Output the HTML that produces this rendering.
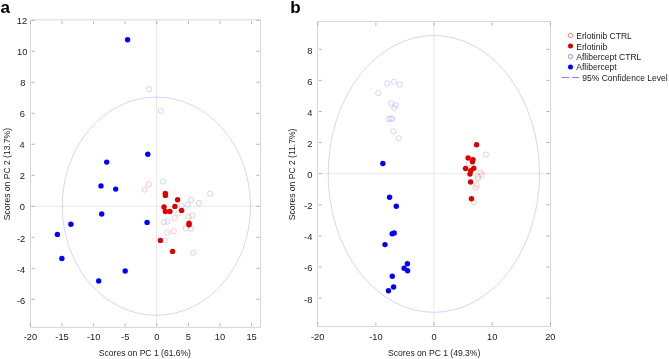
<!DOCTYPE html>
<html><head><meta charset="utf-8"><style>
html,body{margin:0;padding:0;background:#fff;width:669px;height:359px;overflow:hidden}
svg{display:block;will-change:transform}
text{font-family:'Liberation Sans', sans-serif;font-size:8.55px;fill:#1a1a1a}
.tk{font-size:9.3px}
</style></head><body>
<svg width="669" height="359" viewBox="0 0 669 359">
<rect width="669" height="359" fill="#fff"/>
<line x1="156.6" y1="19.9" x2="156.6" y2="327.4" stroke="#e8e8e8" stroke-width="1"/>
<line x1="30.5" y1="206.3" x2="260.5" y2="206.3" stroke="#e8e8e8" stroke-width="1"/>
<ellipse cx="156.4" cy="206.2" rx="94.1" ry="109.1" fill="none" stroke="#c2c2ff" stroke-width="0.7"/>
<rect x="30.5" y="19.9" width="230.0" height="307.5" fill="none" stroke="#d6d6d6" stroke-width="1"/>
<line x1="30.40" y1="326.2" x2="30.40" y2="323.2" stroke="#a0a0a0" stroke-width="0.8"/>
<line x1="30.40" y1="21.099999999999998" x2="30.40" y2="24.099999999999998" stroke="#a0a0a0" stroke-width="0.8"/>
<text class="tk" x="30.40" y="340.00" text-anchor="middle">-20</text>
<line x1="62.00" y1="326.2" x2="62.00" y2="323.2" stroke="#a0a0a0" stroke-width="0.8"/>
<line x1="62.00" y1="21.099999999999998" x2="62.00" y2="24.099999999999998" stroke="#a0a0a0" stroke-width="0.8"/>
<text class="tk" x="62.00" y="340.00" text-anchor="middle">-15</text>
<line x1="93.60" y1="326.2" x2="93.60" y2="323.2" stroke="#a0a0a0" stroke-width="0.8"/>
<line x1="93.60" y1="21.099999999999998" x2="93.60" y2="24.099999999999998" stroke="#a0a0a0" stroke-width="0.8"/>
<text class="tk" x="93.60" y="340.00" text-anchor="middle">-10</text>
<line x1="125.20" y1="326.2" x2="125.20" y2="323.2" stroke="#a0a0a0" stroke-width="0.8"/>
<line x1="125.20" y1="21.099999999999998" x2="125.20" y2="24.099999999999998" stroke="#a0a0a0" stroke-width="0.8"/>
<text class="tk" x="125.20" y="340.00" text-anchor="middle">-5</text>
<line x1="156.80" y1="326.2" x2="156.80" y2="323.2" stroke="#a0a0a0" stroke-width="0.8"/>
<line x1="156.80" y1="21.099999999999998" x2="156.80" y2="24.099999999999998" stroke="#a0a0a0" stroke-width="0.8"/>
<text class="tk" x="156.80" y="340.00" text-anchor="middle">0</text>
<line x1="188.40" y1="326.2" x2="188.40" y2="323.2" stroke="#a0a0a0" stroke-width="0.8"/>
<line x1="188.40" y1="21.099999999999998" x2="188.40" y2="24.099999999999998" stroke="#a0a0a0" stroke-width="0.8"/>
<text class="tk" x="188.40" y="340.00" text-anchor="middle">5</text>
<line x1="220.00" y1="326.2" x2="220.00" y2="323.2" stroke="#a0a0a0" stroke-width="0.8"/>
<line x1="220.00" y1="21.099999999999998" x2="220.00" y2="24.099999999999998" stroke="#a0a0a0" stroke-width="0.8"/>
<text class="tk" x="220.00" y="340.00" text-anchor="middle">10</text>
<line x1="251.60" y1="326.2" x2="251.60" y2="323.2" stroke="#a0a0a0" stroke-width="0.8"/>
<line x1="251.60" y1="21.099999999999998" x2="251.60" y2="24.099999999999998" stroke="#a0a0a0" stroke-width="0.8"/>
<text class="tk" x="251.60" y="340.00" text-anchor="middle">15</text>
<line x1="31.7" y1="20.30" x2="34.7" y2="20.30" stroke="#a0a0a0" stroke-width="0.8"/>
<line x1="259.3" y1="20.30" x2="256.3" y2="20.30" stroke="#a0a0a0" stroke-width="0.8"/>
<text class="tk" x="27.20" y="23.83" text-anchor="end">12</text>
<line x1="31.7" y1="51.30" x2="34.7" y2="51.30" stroke="#a0a0a0" stroke-width="0.8"/>
<line x1="259.3" y1="51.30" x2="256.3" y2="51.30" stroke="#a0a0a0" stroke-width="0.8"/>
<text class="tk" x="27.40" y="54.83" text-anchor="end">10</text>
<line x1="31.7" y1="82.30" x2="34.7" y2="82.30" stroke="#a0a0a0" stroke-width="0.8"/>
<line x1="259.3" y1="82.30" x2="256.3" y2="82.30" stroke="#a0a0a0" stroke-width="0.8"/>
<text class="tk" x="25.40" y="85.83" text-anchor="end">8</text>
<line x1="31.7" y1="113.30" x2="34.7" y2="113.30" stroke="#a0a0a0" stroke-width="0.8"/>
<line x1="259.3" y1="113.30" x2="256.3" y2="113.30" stroke="#a0a0a0" stroke-width="0.8"/>
<text class="tk" x="25.00" y="116.83" text-anchor="end">6</text>
<line x1="31.7" y1="144.30" x2="34.7" y2="144.30" stroke="#a0a0a0" stroke-width="0.8"/>
<line x1="259.3" y1="144.30" x2="256.3" y2="144.30" stroke="#a0a0a0" stroke-width="0.8"/>
<text class="tk" x="24.60" y="147.83" text-anchor="end">4</text>
<line x1="31.7" y1="175.30" x2="34.7" y2="175.30" stroke="#a0a0a0" stroke-width="0.8"/>
<line x1="259.3" y1="175.30" x2="256.3" y2="175.30" stroke="#a0a0a0" stroke-width="0.8"/>
<text class="tk" x="24.80" y="178.83" text-anchor="end">2</text>
<line x1="31.7" y1="206.30" x2="34.7" y2="206.30" stroke="#a0a0a0" stroke-width="0.8"/>
<line x1="259.3" y1="206.30" x2="256.3" y2="206.30" stroke="#a0a0a0" stroke-width="0.8"/>
<text class="tk" x="24.90" y="209.83" text-anchor="end">0</text>
<line x1="31.7" y1="237.30" x2="34.7" y2="237.30" stroke="#a0a0a0" stroke-width="0.8"/>
<line x1="259.3" y1="237.30" x2="256.3" y2="237.30" stroke="#a0a0a0" stroke-width="0.8"/>
<text class="tk" x="25.30" y="241.63" text-anchor="end">-2</text>
<line x1="31.7" y1="268.30" x2="34.7" y2="268.30" stroke="#a0a0a0" stroke-width="0.8"/>
<line x1="259.3" y1="268.30" x2="256.3" y2="268.30" stroke="#a0a0a0" stroke-width="0.8"/>
<text class="tk" x="25.30" y="272.63" text-anchor="end">-4</text>
<line x1="31.7" y1="299.30" x2="34.7" y2="299.30" stroke="#a0a0a0" stroke-width="0.8"/>
<line x1="259.3" y1="299.30" x2="256.3" y2="299.30" stroke="#a0a0a0" stroke-width="0.8"/>
<text class="tk" x="25.30" y="303.63" text-anchor="end">-6</text>
<circle cx="148.9" cy="184.2" r="2.65" fill="none" stroke="#f08a8a" stroke-width="0.45"/>
<circle cx="144.5" cy="189.5" r="2.65" fill="none" stroke="#f08a8a" stroke-width="0.45"/>
<circle cx="198.9" cy="203" r="2.65" fill="none" stroke="#f08a8a" stroke-width="0.45"/>
<circle cx="178.3" cy="213.4" r="2.65" fill="none" stroke="#f08a8a" stroke-width="0.45"/>
<circle cx="174.6" cy="218.1" r="2.65" fill="none" stroke="#f08a8a" stroke-width="0.45"/>
<circle cx="188.4" cy="216.7" r="2.65" fill="none" stroke="#f08a8a" stroke-width="0.45"/>
<circle cx="192.3" cy="215.4" r="2.65" fill="none" stroke="#f08a8a" stroke-width="0.45"/>
<circle cx="185.7" cy="228.4" r="2.65" fill="none" stroke="#f08a8a" stroke-width="0.45"/>
<circle cx="191" cy="228.7" r="2.65" fill="none" stroke="#f08a8a" stroke-width="0.45"/>
<circle cx="167.3" cy="232.6" r="2.65" fill="none" stroke="#f08a8a" stroke-width="0.45"/>
<circle cx="173.8" cy="231.2" r="2.65" fill="none" stroke="#f08a8a" stroke-width="0.45"/>
<circle cx="193.2" cy="252.7" r="2.65" fill="none" stroke="#f08a8a" stroke-width="0.45"/>
<circle cx="149" cy="89.2" r="2.65" fill="none" stroke="#a0a0ff" stroke-width="0.45"/>
<circle cx="160.8" cy="110.8" r="2.65" fill="none" stroke="#a0a0ff" stroke-width="0.45"/>
<circle cx="163.1" cy="181.5" r="2.65" fill="none" stroke="#a0a0ff" stroke-width="0.45"/>
<circle cx="210.1" cy="193.6" r="2.65" fill="none" stroke="#a0a0ff" stroke-width="0.45"/>
<circle cx="191.1" cy="200" r="2.65" fill="none" stroke="#a0a0ff" stroke-width="0.45"/>
<circle cx="187.5" cy="204.6" r="2.65" fill="none" stroke="#a0a0ff" stroke-width="0.45"/>
<circle cx="181.5" cy="205.8" r="2.65" fill="none" stroke="#a0a0ff" stroke-width="0.45"/>
<circle cx="164" cy="222" r="2.65" fill="none" stroke="#a0a0ff" stroke-width="0.45"/>
<circle cx="167.3" cy="221.6" r="2.65" fill="none" stroke="#a0a0ff" stroke-width="0.45"/>
<circle cx="165.1" cy="240.4" r="2.65" fill="none" stroke="#a0a0ff" stroke-width="0.45"/>
<circle cx="127.6" cy="39.7" r="2.7" fill="#0000ff"/>
<circle cx="106.7" cy="162.1" r="2.7" fill="#0000ff"/>
<circle cx="147.8" cy="154.3" r="2.7" fill="#0000ff"/>
<circle cx="101" cy="185.9" r="2.7" fill="#0000ff"/>
<circle cx="115.7" cy="189.1" r="2.7" fill="#0000ff"/>
<circle cx="101.7" cy="214" r="2.7" fill="#0000ff"/>
<circle cx="70.9" cy="224.2" r="2.7" fill="#0000ff"/>
<circle cx="57.4" cy="234.4" r="2.7" fill="#0000ff"/>
<circle cx="147.1" cy="222.4" r="2.7" fill="#0000ff"/>
<circle cx="61.9" cy="258.5" r="2.7" fill="#0000ff"/>
<circle cx="98.7" cy="281" r="2.7" fill="#0000ff"/>
<circle cx="125.2" cy="271" r="2.7" fill="#0000ff"/>
<circle cx="165.4" cy="193.4" r="2.7" fill="#dc0000"/>
<circle cx="165.4" cy="195.4" r="2.7" fill="#dc0000"/>
<circle cx="177.6" cy="199.8" r="2.7" fill="#dc0000"/>
<circle cx="164" cy="207" r="2.7" fill="#dc0000"/>
<circle cx="174.9" cy="206.4" r="2.7" fill="#dc0000"/>
<circle cx="165.4" cy="211.5" r="2.7" fill="#dc0000"/>
<circle cx="169.9" cy="211.5" r="2.7" fill="#dc0000"/>
<circle cx="181.6" cy="210.4" r="2.7" fill="#dc0000"/>
<circle cx="189.1" cy="223.2" r="2.7" fill="#dc0000"/>
<circle cx="189.1" cy="224.8" r="2.7" fill="#dc0000"/>
<circle cx="160.4" cy="240.4" r="2.7" fill="#dc0000"/>
<circle cx="172.6" cy="251.4" r="2.7" fill="#dc0000"/>
<line x1="433.85" y1="21.5" x2="433.85" y2="326.5" stroke="#e8e8e8" stroke-width="1"/>
<line x1="317.5" y1="173.7" x2="550.5" y2="173.7" stroke="#e8e8e8" stroke-width="1"/>
<ellipse cx="433.85" cy="173.9" rx="105.65" ry="138.4" fill="none" stroke="#c2c2ff" stroke-width="0.7"/>
<rect x="317.5" y="21.5" width="233.0" height="305.0" fill="none" stroke="#d6d6d6" stroke-width="1"/>
<line x1="317.71" y1="325.3" x2="317.71" y2="322.3" stroke="#a0a0a0" stroke-width="0.8"/>
<line x1="317.71" y1="22.7" x2="317.71" y2="25.7" stroke="#a0a0a0" stroke-width="0.8"/>
<text class="tk" x="317.71" y="340.00" text-anchor="middle">-20</text>
<line x1="375.88" y1="325.3" x2="375.88" y2="322.3" stroke="#a0a0a0" stroke-width="0.8"/>
<line x1="375.88" y1="22.7" x2="375.88" y2="25.7" stroke="#a0a0a0" stroke-width="0.8"/>
<text class="tk" x="375.88" y="340.00" text-anchor="middle">-10</text>
<line x1="434.05" y1="325.3" x2="434.05" y2="322.3" stroke="#a0a0a0" stroke-width="0.8"/>
<line x1="434.05" y1="22.7" x2="434.05" y2="25.7" stroke="#a0a0a0" stroke-width="0.8"/>
<text class="tk" x="434.05" y="340.00" text-anchor="middle">0</text>
<line x1="492.22" y1="325.3" x2="492.22" y2="322.3" stroke="#a0a0a0" stroke-width="0.8"/>
<line x1="492.22" y1="22.7" x2="492.22" y2="25.7" stroke="#a0a0a0" stroke-width="0.8"/>
<text class="tk" x="492.22" y="340.00" text-anchor="middle">10</text>
<line x1="550.39" y1="325.3" x2="550.39" y2="322.3" stroke="#a0a0a0" stroke-width="0.8"/>
<line x1="550.39" y1="22.7" x2="550.39" y2="25.7" stroke="#a0a0a0" stroke-width="0.8"/>
<text class="tk" x="550.39" y="340.00" text-anchor="middle">20</text>
<line x1="318.7" y1="49.30" x2="321.7" y2="49.30" stroke="#a0a0a0" stroke-width="0.8"/>
<line x1="549.3" y1="49.30" x2="546.3" y2="49.30" stroke="#a0a0a0" stroke-width="0.8"/>
<text class="tk" x="312.40" y="53.63" text-anchor="end">8</text>
<line x1="318.7" y1="80.40" x2="321.7" y2="80.40" stroke="#a0a0a0" stroke-width="0.8"/>
<line x1="549.3" y1="80.40" x2="546.3" y2="80.40" stroke="#a0a0a0" stroke-width="0.8"/>
<text class="tk" x="312.40" y="84.73" text-anchor="end">6</text>
<line x1="318.7" y1="111.50" x2="321.7" y2="111.50" stroke="#a0a0a0" stroke-width="0.8"/>
<line x1="549.3" y1="111.50" x2="546.3" y2="111.50" stroke="#a0a0a0" stroke-width="0.8"/>
<text class="tk" x="312.40" y="115.83" text-anchor="end">4</text>
<line x1="318.7" y1="142.60" x2="321.7" y2="142.60" stroke="#a0a0a0" stroke-width="0.8"/>
<line x1="549.3" y1="142.60" x2="546.3" y2="142.60" stroke="#a0a0a0" stroke-width="0.8"/>
<text class="tk" x="312.40" y="146.93" text-anchor="end">2</text>
<line x1="318.7" y1="173.70" x2="321.7" y2="173.70" stroke="#a0a0a0" stroke-width="0.8"/>
<line x1="549.3" y1="173.70" x2="546.3" y2="173.70" stroke="#a0a0a0" stroke-width="0.8"/>
<text class="tk" x="312.40" y="178.03" text-anchor="end">0</text>
<line x1="318.7" y1="204.80" x2="321.7" y2="204.80" stroke="#a0a0a0" stroke-width="0.8"/>
<line x1="549.3" y1="204.80" x2="546.3" y2="204.80" stroke="#a0a0a0" stroke-width="0.8"/>
<text class="tk" x="312.40" y="209.23" text-anchor="end">-2</text>
<line x1="318.7" y1="235.90" x2="321.7" y2="235.90" stroke="#a0a0a0" stroke-width="0.8"/>
<line x1="549.3" y1="235.90" x2="546.3" y2="235.90" stroke="#a0a0a0" stroke-width="0.8"/>
<text class="tk" x="312.40" y="240.33" text-anchor="end">-4</text>
<line x1="318.7" y1="267.00" x2="321.7" y2="267.00" stroke="#a0a0a0" stroke-width="0.8"/>
<line x1="549.3" y1="267.00" x2="546.3" y2="267.00" stroke="#a0a0a0" stroke-width="0.8"/>
<text class="tk" x="312.40" y="271.43" text-anchor="end">-6</text>
<line x1="318.7" y1="298.10" x2="321.7" y2="298.10" stroke="#a0a0a0" stroke-width="0.8"/>
<line x1="549.3" y1="298.10" x2="546.3" y2="298.10" stroke="#a0a0a0" stroke-width="0.8"/>
<text class="tk" x="312.40" y="302.53" text-anchor="end">-8</text>
<circle cx="485.9" cy="154.6" r="2.65" fill="none" stroke="#f08a8a" stroke-width="0.45"/>
<circle cx="469.2" cy="163.4" r="2.65" fill="none" stroke="#f08a8a" stroke-width="0.45"/>
<circle cx="480.5" cy="172.7" r="2.65" fill="none" stroke="#f08a8a" stroke-width="0.45"/>
<circle cx="481.9" cy="174.8" r="2.65" fill="none" stroke="#f08a8a" stroke-width="0.45"/>
<circle cx="477.8" cy="176.5" r="2.65" fill="none" stroke="#f08a8a" stroke-width="0.45"/>
<circle cx="478" cy="178.5" r="2.65" fill="none" stroke="#f08a8a" stroke-width="0.45"/>
<circle cx="476.8" cy="185.2" r="2.65" fill="none" stroke="#f08a8a" stroke-width="0.45"/>
<circle cx="475.5" cy="187.8" r="2.65" fill="none" stroke="#f08a8a" stroke-width="0.45"/>
<circle cx="473.8" cy="202.4" r="2.65" fill="none" stroke="#f08a8a" stroke-width="0.45"/>
<circle cx="387.2" cy="83.5" r="2.65" fill="none" stroke="#a0a0ff" stroke-width="0.45"/>
<circle cx="394.1" cy="81.8" r="2.65" fill="none" stroke="#a0a0ff" stroke-width="0.45"/>
<circle cx="399.9" cy="84.5" r="2.65" fill="none" stroke="#a0a0ff" stroke-width="0.45"/>
<circle cx="378.3" cy="93.1" r="2.65" fill="none" stroke="#a0a0ff" stroke-width="0.45"/>
<circle cx="390.9" cy="103.4" r="2.65" fill="none" stroke="#a0a0ff" stroke-width="0.45"/>
<circle cx="395.9" cy="105.2" r="2.65" fill="none" stroke="#a0a0ff" stroke-width="0.45"/>
<circle cx="394.2" cy="107.9" r="2.65" fill="none" stroke="#a0a0ff" stroke-width="0.45"/>
<circle cx="388.8" cy="119.1" r="2.65" fill="none" stroke="#a0a0ff" stroke-width="0.45"/>
<circle cx="390.7" cy="118.8" r="2.65" fill="none" stroke="#a0a0ff" stroke-width="0.45"/>
<circle cx="392.2" cy="118.4" r="2.65" fill="none" stroke="#a0a0ff" stroke-width="0.45"/>
<circle cx="393.4" cy="131.4" r="2.65" fill="none" stroke="#a0a0ff" stroke-width="0.45"/>
<circle cx="398.8" cy="138.3" r="2.65" fill="none" stroke="#a0a0ff" stroke-width="0.45"/>
<circle cx="382.85" cy="163.5" r="2.7" fill="#0000ff"/>
<circle cx="389.6" cy="197.3" r="2.7" fill="#0000ff"/>
<circle cx="396.3" cy="206.3" r="2.7" fill="#0000ff"/>
<circle cx="392.2" cy="233.8" r="2.7" fill="#0000ff"/>
<circle cx="394.2" cy="233" r="2.7" fill="#0000ff"/>
<circle cx="385" cy="244.6" r="2.7" fill="#0000ff"/>
<circle cx="407.4" cy="263.8" r="2.7" fill="#0000ff"/>
<circle cx="404.1" cy="268.2" r="2.7" fill="#0000ff"/>
<circle cx="407.6" cy="270.7" r="2.7" fill="#0000ff"/>
<circle cx="392.3" cy="276.3" r="2.7" fill="#0000ff"/>
<circle cx="393.6" cy="287" r="2.7" fill="#0000ff"/>
<circle cx="388.5" cy="290.8" r="2.7" fill="#0000ff"/>
<circle cx="476.6" cy="144.7" r="2.7" fill="#dc0000"/>
<circle cx="468.1" cy="157.9" r="2.7" fill="#dc0000"/>
<circle cx="473" cy="159.6" r="2.7" fill="#dc0000"/>
<circle cx="472.5" cy="161.7" r="2.7" fill="#dc0000"/>
<circle cx="465.6" cy="168.5" r="2.7" fill="#dc0000"/>
<circle cx="473.8" cy="168.2" r="2.7" fill="#dc0000"/>
<circle cx="470.8" cy="170.8" r="2.7" fill="#dc0000"/>
<circle cx="470" cy="174.1" r="2.7" fill="#dc0000"/>
<circle cx="470.6" cy="182" r="2.7" fill="#dc0000"/>
<circle cx="471.5" cy="198.8" r="2.7" fill="#dc0000"/>
<text x="144.9" y="355.7" text-anchor="middle">Scores on PC 1 (61.6%)</text>
<text x="0" y="0" text-anchor="middle" transform="translate(9.8,174.1) rotate(-90)">Scores on PC 2 (13.7%)</text>
<text x="434.2" y="355.9" text-anchor="middle">Scores on PC 1 (49.3%)</text>
<text x="0" y="0" text-anchor="middle" transform="translate(295.3,174.4) rotate(-90)">Scores on PC 2 (11.7%)</text>
<text x="0.6" y="13.4" style="font-size:17px;font-weight:bold;fill:#000">a</text>
<text x="290.2" y="13.4" style="font-size:17px;font-weight:bold;fill:#000">b</text>
<circle cx="570.5" cy="35.5" r="2.15" fill="none" stroke="#e45050" stroke-width="0.75"/>
<text x="576.3" y="39.10">Erlotinib CTRL</text>
<circle cx="570.5" cy="46.0" r="2.5" fill="#dc0000"/>
<text x="576.3" y="49.55">Erlotinib</text>
<circle cx="570.5" cy="56.5" r="2.15" fill="none" stroke="#6a6aff" stroke-width="0.75"/>
<text x="576.3" y="60.00">Aflibercept CTRL</text>
<circle cx="570.5" cy="66.9" r="2.5" fill="#0000ff"/>
<text x="576.3" y="70.45">Aflibercept</text>
<line x1="561.6" y1="77.5" x2="569.4" y2="77.5" stroke="#7070ff" stroke-width="0.9"/>
<line x1="571.9" y1="77.5" x2="578.8" y2="77.5" stroke="#7070ff" stroke-width="0.9"/>
<text x="582.2" y="80.9">95% Confidence Level</text>
</svg>
</body></html>
